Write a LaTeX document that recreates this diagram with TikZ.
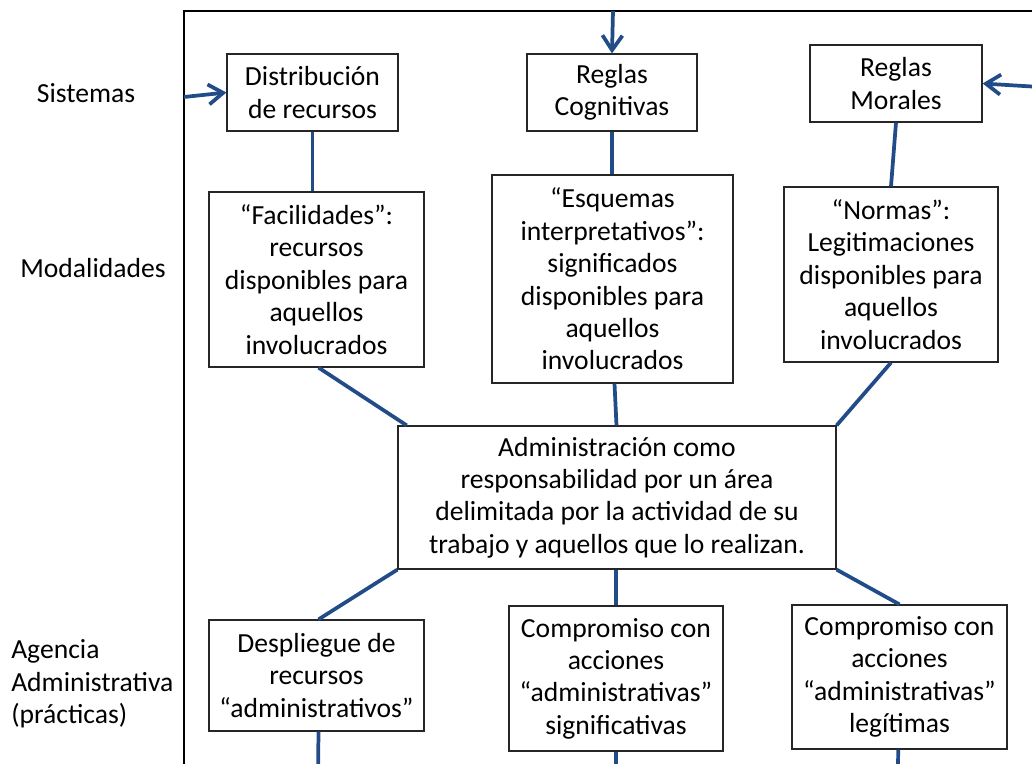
\documentclass[tikz,border=0pt]{standalone}
\usepackage{fontspec}
\setmainfont{Carlito}
\usetikzlibrary{arrows.meta}
\definecolor{linkblue}{RGB}{34,76,136}
\tikzset{
  box/.style={draw=black!85, line width=0.9pt, fill=white, align=center,
    inner sep=0pt, font=\fontsize{20.7}{24.3}\selectfont},
  link/.style={draw=linkblue, line width=2.8pt},
  feed/.style={link, -{Straight Barb[length=11pt,width=15pt,line width=2.8pt]}},
  rowlabel/.style={font=\fontsize{20.7}{24.3}\selectfont, inner sep=0pt}
}
\begin{document}
\begin{tikzpicture}[x=0.75pt,y=-0.75pt]
\useasboundingbox (0,0) rectangle (1032,764);
\begin{scope}
\clip (0,0) rectangle (1032,764);

% outer frame, open to the right and bottom
\draw[line width=1.8pt] (184,775) -- (184,11) -- (1045,11);

% row labels
\node[rowlabel] (lsis) at (86,93) {Sistemas};
\node[rowlabel] (lmod) at (93,268) {Modalidades};
\node[rowlabel, align=left, anchor=west] (lage) at (11,684) {Agencia\\Administrativa\\(prácticas)};

% structures
\node[box, minimum width=171*0.75pt, minimum height=77*0.75pt] (dist) at (312.5,92.5) {Distribución\\de recursos};
\node[box, minimum width=170*0.75pt, minimum height=77*0.75pt] (rcog) at (612,92.5) {Reglas\\Cognitivas};
\node[box, minimum width=172*0.75pt, minimum height=77*0.75pt] (rmor) at (896,83.5) {Reglas\\Morales};

% modalities
\node[box, minimum width=215*0.75pt, minimum height=175*0.75pt] (faci) at (316.5,279.5) {“Facilidades”:\\recursos\\disponibles para\\aquellos\\involucrados};
\node[box, minimum width=241*0.75pt, minimum height=208*0.75pt] (esqu) at (612.5,279) {“Esquemas\\interpretativos”:\\significados\\disponibles para\\aquellos\\involucrados};
\node[box, minimum width=214*0.75pt, minimum height=175*0.75pt] (norm) at (891,274.5) {“Normas”:\\Legitimaciones\\disponibles para\\aquellos\\involucrados};

% centre
\node[box, minimum width=438*0.75pt, minimum height=143*0.75pt] (admi) at (617,497.5) {Administración como\\responsabilidad por un área\\delimitada por la actividad de su\\trabajo y aquellos que lo realizan.};

% agency
\node[box, minimum width=215*0.75pt, minimum height=111*0.75pt] (desp) at (316.5,675.5) {Despliegue de\\recursos\\“administrativos”};
\node[box, minimum width=214*0.75pt, minimum height=145*0.75pt] (comp) at (616,678.5) {Compromiso con\\acciones\\“administrativas”\\significativas};
\node[box, minimum width=215*0.75pt, minimum height=144*0.75pt] (comq) at (899.5,677) {Compromiso con\\acciones\\“administrativas”\\legítimas};

% free ends of the connectors
\coordinate (inL) at (184,97);
\coordinate (inT) at (613,11);
\coordinate (inR) at (1040,87);
\coordinate (outA) at (318,775);
\coordinate (outB) at (616,775);
\coordinate (outC) at (898,775);

% inputs into the structures
\draw[feed] (inL) -- (dist.west);
\draw[feed] (inT) -- (rcog.north);
\draw[feed] (inR) -- (rmor.east);

% structure to modality
\draw[link] (dist.south) -- (faci.north -| dist.south);
\draw[link] (rcog.south) -- (esqu.north -| rcog.south);
\draw[link] (rmor.south) -- (norm.north);

% modalities to centre
\draw[link] ([xshift=1.5pt]faci.south) -- ([xshift=7pt]admi.north west);
\draw[link] ([xshift=1.5pt]esqu.south) -- ([xshift=3pt]esqu.south |- admi.north);
\draw[link] (norm.south) -- (admi.north east);

% centre to agency
\draw[link] (admi.south west) -- ([xshift=1.5pt]desp.north);
\draw[link] (comp.north |- admi.south) -- (comp.north);
\draw[link] (admi.south east) -- (comq.north);

% agency continues downward
\draw[link] ([xshift=1.5pt]desp.south) -- (outA);
\draw[link] (comp.south) -- (outB);
\draw[link] ([xshift=-1pt]comq.south) -- (outC);
\end{scope}
\end{tikzpicture}
\end{document}
